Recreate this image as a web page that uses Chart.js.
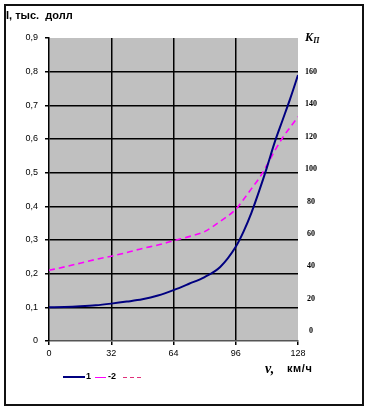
<!DOCTYPE html>
<html>
<head>
<meta charset="utf-8">
<script src="https://cdn.jsdelivr.net/npm/chart.js@4/dist/chart.umd.min.js"></script>
<style>
  html, body { margin:0; padding:0; background:#fff; }
  #wrap { position:relative; width:371px; height:418px; overflow:hidden; }
  canvas { position:absolute; left:0; top:0; }
  .frame { position:absolute; left:4px; top:4px; width:360px; height:402px; box-sizing:border-box; border:2px solid #111; pointer-events:none; }
  .t { position:absolute; white-space:nowrap; color:#000; }
</style>
</head>
<body>
<div id="wrap">
  <canvas id="c" width="371" height="418"></canvas>
  <div class="frame"></div>
  <div class="t" style="left:6px;top:9px;font:bold 11px Arial, 'Liberation Sans', sans-serif;">I, тыс.&nbsp; долл</div>
  <div class="t" style="left:305px;top:30px;font:italic bold 12px 'Liberation Serif', serif;">К<span style="font-size:8px;position:relative;top:2px;">П</span></div>
  <div class="t" style="left:265px;top:361px;font:italic bold 14px 'Liberation Serif', serif;">v,</div>
  <div class="t" style="left:287px;top:362px;font:bold 11px Arial, 'Liberation Sans', sans-serif;letter-spacing:0.6px;">км/ч</div>
  <!-- legend -->
  <div style="position:absolute;left:63px;top:376px;width:22px;height:2px;background:#000080;"></div>
  <div class="t" style="left:86px;top:371px;font:bold 9px Arial, 'Liberation Sans', sans-serif;">1</div>
  <div style="position:absolute;left:95px;top:377px;width:11px;height:1px;background:#ff00ff;"></div>
  <div class="t" style="left:108px;top:371px;font:bold 9px Arial, 'Liberation Sans', sans-serif;">-2</div>
  <div style="position:absolute;left:123px;top:377px;width:20px;height:1px;background:repeating-linear-gradient(90deg,#e0307a 0 4px,transparent 4px 7px);"></div>
</div>
<script>
// ---- data ----
const speeds = [0, 8, 16, 24, 32, 40, 48, 56, 64, 72, 80, 88, 96, 100, 104, 108, 112, 116, 120, 124, 128];
// series 1: I, thousand dollars (left axis)
const series1 = [0.100, 0.101, 0.103, 0.106, 0.111, 0.117, 0.124, 0.135, 0.151, 0.170, 0.190, 0.220, 0.280, 0.325, 0.380, 0.445, 0.515, 0.590, 0.655, 0.720, 0.790];
// series 2: Kп (right axis)
const series2 = [37.5, 39.6, 41.9, 44.2, 46.2, 48.5, 51.0, 53.1, 55.8, 58.3, 61.4, 67.7, 75.2, 81.2, 87.8, 94.3, 102.4, 111.3, 119.2, 125.9, 132.3];
const xTicks = [0, 32, 64, 96, 128];
const leftTicks = [0, 0.1, 0.2, 0.3, 0.4, 0.5, 0.6, 0.7, 0.8, 0.9];
const leftTickLabels = ['0', '0,1', '0,2', '0,3', '0,4', '0,5', '0,6', '0,7', '0,8', '0,9'];
const rightTicks = [0, 20, 40, 60, 80, 100, 120, 140, 160];
const rightTickLabels = ['0', '20', '40', '60', '80', '100', '120', '140', '160'];
const seriesNames = ['1', '2'];

const bgPlugin = {
  id: 'bg',
  beforeDraw(chart) {
    const {ctx, chartArea: a} = chart;
    ctx.save();
    ctx.fillStyle = '#c0c0c0';
    ctx.fillRect(a.left, a.top, a.right - a.left, a.bottom - a.top);
    ctx.restore();
  }
};

const lblFont = {family: "Arial, 'Liberation Sans', sans-serif", size: 9};

new Chart(document.getElementById('c'), {
  type: 'line',
  data: {
    datasets: [
      {
        label: seriesNames[0],
        data: speeds.map((s, i) => ({x: s, y: series1[i]})),
        borderColor: '#000080',
        borderWidth: 2,
        pointRadius: 0,
        cubicInterpolationMode: 'monotone',
        xAxisID: 'x', yAxisID: 'y'
      },
      {
        label: seriesNames[1],
        data: speeds.map((s, i) => ({x: s, y: series2[i]})),
        borderColor: '#ff00ff',
        borderWidth: 1.6,
        borderDash: [6, 4],
        pointRadius: 0,
        cubicInterpolationMode: 'monotone',
        xAxisID: 'x', yAxisID: 'y2'
      }
    ]
  },
  options: {
    responsive: false,
    animation: false,
    events: [],
    layout: { padding: { left: 0, top: 38, right: 43, bottom: 57 } },
    plugins: { legend: { display: false }, title: { display: false }, tooltip: { enabled: false } },
    scales: {
      x: {
        type: 'linear', min: 0, max: 128,
        afterBuildTicks: s => { s.ticks = xTicks.map(v => ({value: v})); },
        afterFit: s => { s.height = 20; },
        grid: {
          color: c => (c.tick && (c.tick.value === 0 || c.tick.value === 128)) ? 'rgba(0,0,0,0)' : '#000',
          lineWidth: 1.5,
          tickColor: '#000',
          tickLength: 4
        },
        border: { display: true, color: '#555', width: 1.5 },
        ticks: { color: '#000', font: lblFont, padding: 3, maxRotation: 0, autoSkip: false, callback: v => String(v) }
      },
      y: {
        type: 'linear', position: 'left', min: 0, max: 0.9,
        afterBuildTicks: s => { s.ticks = leftTicks.map(v => ({value: v})); },
        afterFit: s => { s.width = 49; },
        grid: {
          color: c => (c.tick && (Math.abs(c.tick.value) < 1e-9 || Math.abs(c.tick.value - 0.9) < 1e-9)) ? 'rgba(0,0,0,0)' : '#000',
          lineWidth: 1.5,
          tickColor: '#000',
          tickLength: 4
        },
        border: { display: true, color: '#000', width: 1.5 },
        ticks: {
          color: '#000', font: lblFont, padding: 7, autoSkip: false,
          callback: (v) => { const i = leftTicks.findIndex(t => Math.abs(t - v) < 1e-9); return i >= 0 ? leftTickLabels[i] : ''; }
        }
      },
      y2: {
        type: 'linear', position: 'right', min: -6.18, max: 181.0,
        afterBuildTicks: s => { s.ticks = rightTicks.map(v => ({value: v})); },
        afterFit: s => { s.width = 30; },
        grid: { display: false, drawTicks: false },
        border: { display: false },
        ticks: {
          color: '#000', font: {family: "'Liberation Serif', serif", size: 8, weight: 'bold'}, padding: 7, crossAlign: 'center', autoSkip: false,
          callback: (v) => { const i = rightTicks.indexOf(v); return i >= 0 ? rightTickLabels[i] : ''; }
        }
      }
    }
  },
  plugins: [bgPlugin]
});
</script>
</body>
</html>
